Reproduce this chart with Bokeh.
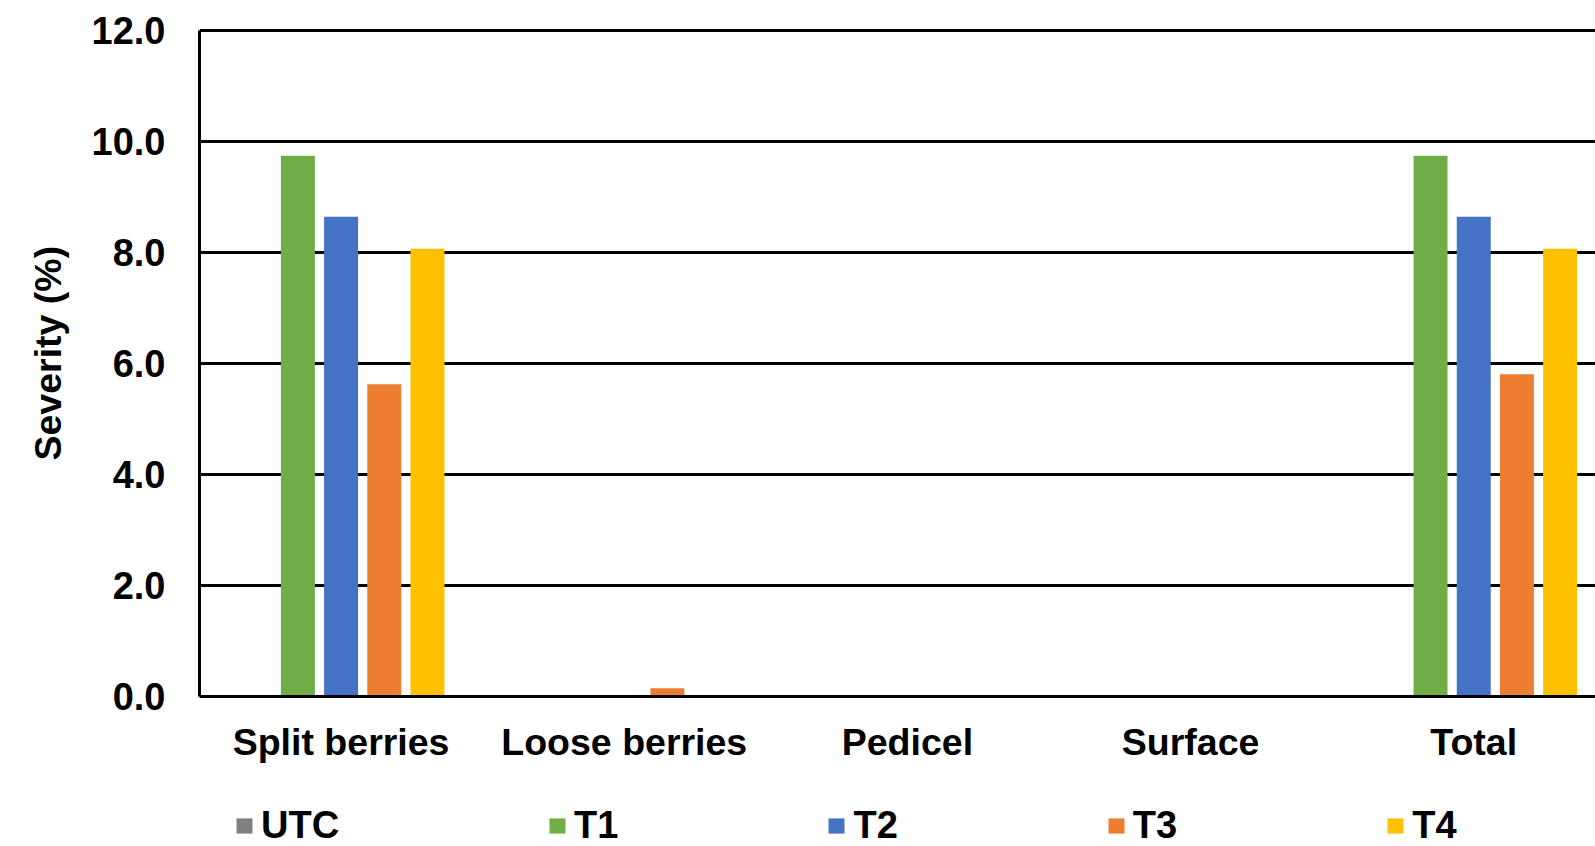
import numpy as np
from bokeh.plotting import figure
from bokeh.models import (ColumnDataSource, Range1d, FixedTicker, NumeralTickFormatter,
                          CustomJSTickFormatter, Legend, LegendItem, Title)
from bokeh.transform import dodge
from bokeh.embed import file_html
from bokeh.resources import INLINE

# ---- data ----
categories = ["Split berries", "Loose berries", "Pedicel", "Surface", "Total"]
series_names = ["UTC", "T1", "T2", "T3", "T4"]
utc = [0.0, 0.0, 0.0, 0.0, 0.0]
t1 = [9.75, 0.0, 0.0, 0.0, 9.75]
t2 = [8.65, 0.0, 0.0, 0.0, 8.65]
t3 = [5.63, 0.15, 0.0, 0.0, 5.81]
t4 = [8.07, 0.0, 0.0, 0.0, 8.07]
y_ticks = [0, 2, 4, 6, 8, 10, 12]
y_title = "Severity (%)"

colors = ["#808080", "#70AD47", "#4472C4", "#ED7D31", "#FFC000"]
FONT = "Liberation Sans"

src = ColumnDataSource(dict(
    x=np.arange(len(categories)) + 0.5,
    UTC=utc, T1=t1, T2=t2, T3=t3, T4=t4,
))

# frame spans down to the bottom of the canvas; the value axis shows 0..12 only,
# the lower part of the frame holds the category labels and legend
p = figure(width=1595, height=846, output_backend="svg", toolbar_location=None,
           x_range=Range1d(0, 4.93), y_range=Range1d(-2.703, 12.06),
           min_border_left=199, min_border_right=0, min_border_top=27, min_border_bottom=0)
p.outline_line_color = None
p.background_fill_color = "white"
p.border_fill_color = "white"

pitch = 0.1525
bw = 0.12
renderers = []
for i, (name, col) in enumerate(zip(series_names, colors)):
    r = p.vbar(x=dodge("x", (i - 2) * pitch, range=p.x_range), top=name, width=bw,
               bottom=0, source=src, fill_color=col, line_color=None)
    renderers.append(r)

# y axis
p.yaxis.ticker = FixedTicker(ticks=y_ticks)
p.yaxis.bounds = (0, 12)
p.yaxis.formatter = NumeralTickFormatter(format="0.0")
p.yaxis.major_tick_in = 0
p.yaxis.major_tick_out = 0
p.yaxis.minor_tick_line_color = None
p.yaxis.axis_line_color = "black"
p.yaxis.axis_line_width = 3
p.yaxis.major_label_text_font = FONT
p.yaxis.major_label_text_font_style = "bold"
p.yaxis.major_label_text_font_size = "38px"
p.yaxis.major_label_text_color = "black"
p.yaxis.major_label_standoff = 34

# y title, placed along the 0..12 part of the frame
ttl = Title(text=y_title, align="left", vertical_align="bottom", offset=386, standoff=40,
            text_font=FONT, text_font_style="bold", text_font_size="37.5px",
            text_color="black")
p.add_layout(ttl, "left")

# x axis, pinned at y = 0
p.xaxis.fixed_location = 0
p.xaxis.ticker = FixedTicker(ticks=list(np.arange(len(categories)) + 0.5))
p.xaxis.formatter = CustomJSTickFormatter(args=dict(cats=categories),
                                          code="return cats[Math.floor(tick)];")
p.xaxis.major_tick_in = 0
p.xaxis.major_tick_out = 0
p.xaxis.minor_tick_line_color = None
p.xaxis.axis_line_color = "black"
p.xaxis.axis_line_width = 3
p.xaxis.major_label_text_font = FONT
p.xaxis.major_label_text_font_style = "bold"
p.xaxis.major_label_text_font_size = "37.5px"
p.xaxis.major_label_text_color = "black"
p.xaxis.major_label_standoff = 24

# grid
p.xgrid.grid_line_color = None
p.ygrid.ticker = FixedTicker(ticks=y_ticks)
p.ygrid.grid_line_color = "black"
p.ygrid.grid_line_width = 3

# legend
legend = Legend(items=[LegendItem(label=n, renderers=[r]) for n, r in zip(series_names, renderers)],
                orientation="horizontal", location=(35, -1),
                glyph_width=20, glyph_height=19, label_standoff=7, spacing=208,
                padding=0, margin=0, border_line_color=None, background_fill_alpha=0,
                label_text_font=FONT, label_text_font_style="bold",
                label_text_font_size="38px", label_text_color="black")
p.add_layout(legend, "center")

open("out.html", "w").write(file_html(p, INLINE))
